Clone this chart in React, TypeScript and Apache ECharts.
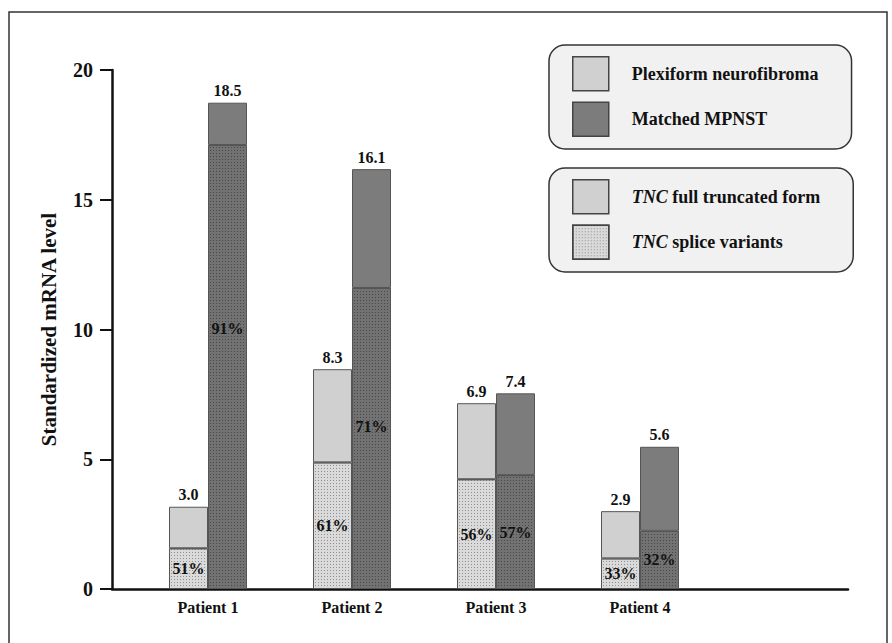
import React, { useEffect, useRef } from "react";
import * as echarts from "echarts";

const patients = ["Patient 1", "Patient 2", "Patient 3", "Patient 4"];
// Plexiform neurofibroma: splice-variant part and full-truncated-form part (as drawn)
const pnSplice = [1.57, 4.88, 4.23, 1.18];
const pnFull = [1.6, 3.59, 2.93, 1.82];
// Matched MPNST
const mpSplice = [17.11, 11.6, 4.39, 2.24];
const mpFull = [1.63, 4.58, 3.15, 3.24];
// Printed labels
const pnTotals = ["3.0", "8.3", "6.9", "2.9"];
const mpTotals = ["18.5", "16.1", "7.4", "5.6"];
const pnPct = ["51%", "61%", "56%", "33%"];
const mpPct = ["91%", "71%", "57%", "32%"];
const yTicks = [0, 5, 10, 15, 20];

const FONT = "'Liberation Serif', 'DejaVu Serif', serif";
const LIGHT = "#d0d0d0";
const DARK = "#7c7c7c";
const LIGHT_DOT = "#dadada";
const DARK_DOT = "#727272";

export default function App() {
  const ref = useRef<HTMLDivElement>(null);
  useEffect(() => {
    if (!ref.current) return;
    const chart = echarts.init(ref.current, null, { renderer: "svg" });
    const txt = { fontFamily: FONT, fontWeight: "bold" as const, color: "#111" };
    const decalLight = {
      symbol: "rect",
      symbolSize: 1,
      dashArrayX: [1, 2],
      dashArrayY: [1, 2],
      color: "rgba(70,70,70,0.5)",
    };
    const decalDark = {
      symbol: "rect",
      symbolSize: 1,
      dashArrayX: [1, 2],
      dashArrayY: [1, 2],
      color: "rgba(30,30,30,0.5)",
    };
    const border = { borderColor: "#555", borderWidth: 1 };
    const legendBase = {
      orient: "vertical" as const,
      left: 549,
      itemWidth: 36,
      itemHeight: 34,
      itemGap: 10,
      padding: [11, 33, 12, 23],
      backgroundColor: "#f1f1f1",
      borderColor: "#333",
      borderWidth: 1.5,
      borderRadius: 16,
      selectedMode: false,
      icon: "rect",
      textStyle: {
        ...txt,
        fontSize: 18,
        padding: [0, 0, 0, 18],
        rich: {
          i: { fontFamily: FONT, fontWeight: "bold", fontStyle: "italic", fontSize: 18, color: "#111" },
          b: { fontFamily: FONT, fontWeight: "bold", fontSize: 18, color: "#111" },
        },
      },
      formatter: (name: string) =>
        name.startsWith("TNC") ? `{i|TNC}{b|${name.slice(3)}}` : name,
    };
    chart.setOption({
      animation: false,
      backgroundColor: "#fff",
      graphic: [
        {
          type: "rect",
          shape: { x: 9, y: 12, width: 878, height: 640 },
          style: { fill: "none", stroke: "#333", lineWidth: 1.5 },
          silent: true,
        },
      ],
      legend: [
        {
          ...legendBase,
          top: 45,
          data: [
            { name: "Plexiform neurofibroma", itemStyle: { color: LIGHT, borderColor: "#444", borderWidth: 1.5 } },
            { name: "Matched MPNST", itemStyle: { color: DARK, borderColor: "#444", borderWidth: 1.5 } },
          ],
        },
        {
          ...legendBase,
          top: 168,
          data: [
            { name: "TNC full truncated form", itemStyle: { color: LIGHT, borderColor: "#444", borderWidth: 1.5 } },
            { name: "TNC splice variants", itemStyle: { color: LIGHT_DOT, borderColor: "#444", borderWidth: 1.5, decal: decalLight } },
          ],
        },
      ],
      grid: [
        { left: 112, right: 44, top: 70, bottom: 54 },
        { left: 136, right: 180, top: 70, bottom: 54 },
      ],
      xAxis: [
        {
          gridIndex: 0,
          type: "value",
          min: 0,
          max: 1,
          axisLine: { show: true, lineStyle: { color: "#111", width: 2.5 } },
          axisTick: { show: false },
          axisLabel: { show: false },
          splitLine: { show: false },
        },
        {
          gridIndex: 1,
          type: "category",
          data: patients,
          axisLine: { show: false },
          axisTick: { show: false },
          axisLabel: { ...txt, fontSize: 16, margin: 10 },
        },
      ],
      yAxis: [
        {
          gridIndex: 0,
          type: "value",
          min: 0,
          max: 20,
          interval: 5,
          name: "Standardized mRNA level",
          nameLocation: "middle",
          nameRotate: 90,
          nameGap: 53,
          nameTextStyle: { ...txt, fontSize: 21 },
          axisLine: { show: true, lineStyle: { color: "#111", width: 2.5 } },
          axisTick: { show: true, length: 12, lineStyle: { color: "#111", width: 2 } },
          axisLabel: {
            ...txt,
            fontSize: 20,
            margin: 19,
            formatter: (v: number) => (yTicks.includes(v) ? String(v) : ""),
          },
          splitLine: { show: false },
        },
        {
          gridIndex: 1,
          type: "value",
          min: 0,
          max: 20,
          show: false,
          splitLine: { show: false },
        },
      ],
      series: [
        {
          name: "TNC splice variants",
          type: "bar",
          xAxisIndex: 1,
          yAxisIndex: 1,
          stack: "pn",
          barWidth: 39,
          barGap: "0%",
          data: pnSplice,
          itemStyle: { color: LIGHT_DOT, ...border, decal: decalLight },
          label: {
            show: true,
            position: "inside",
            ...txt,
            fontSize: 16,
            formatter: (p: any) => pnPct[p.dataIndex],
          },
        },
        {
          name: "Plexiform neurofibroma",
          type: "bar",
          xAxisIndex: 1,
          yAxisIndex: 1,
          stack: "pn",
          barWidth: 39,
          barGap: "0%",
          data: pnFull,
          itemStyle: { color: LIGHT, ...border },
          label: {
            show: true,
            position: "top",
            distance: 4,
            ...txt,
            fontSize: 16,
            formatter: (p: any) => pnTotals[p.dataIndex],
          },
        },
        {
          name: "TNC full truncated form",
          type: "bar",
          xAxisIndex: 1,
          yAxisIndex: 1,
          stack: "pn",
          barWidth: 39,
          barGap: "0%",
          data: [],
          itemStyle: { color: LIGHT, ...border },
        },
        {
          name: "MPNST splice variants",
          type: "bar",
          xAxisIndex: 1,
          yAxisIndex: 1,
          stack: "mp",
          barWidth: 39,
          barGap: "0%",
          data: mpSplice.map((v, i) =>
            i === 0
              ? { value: v, label: { offset: [0, -38] } }
              : i === 1
              ? { value: v, label: { offset: [0, -12] } }
              : v
          ),
          itemStyle: { color: DARK_DOT, ...border, decal: decalDark },
          label: {
            show: true,
            position: "inside",
            ...txt,
            fontSize: 16,
            formatter: (p: any) => mpPct[p.dataIndex],
          },
        },
        {
          name: "Matched MPNST",
          type: "bar",
          xAxisIndex: 1,
          yAxisIndex: 1,
          stack: "mp",
          barWidth: 39,
          barGap: "0%",
          data: mpFull,
          itemStyle: { color: DARK, ...border },
          label: {
            show: true,
            position: "top",
            distance: 4,
            ...txt,
            fontSize: 16,
            formatter: (p: any) => mpTotals[p.dataIndex],
          },
        },
      ],
    });
    return () => chart.dispose();
  }, []);
  return (
    <div
      ref={ref}
      style={{ position: "fixed", left: 0, top: 0, width: 892, height: 643 }}
    />
  );
}
